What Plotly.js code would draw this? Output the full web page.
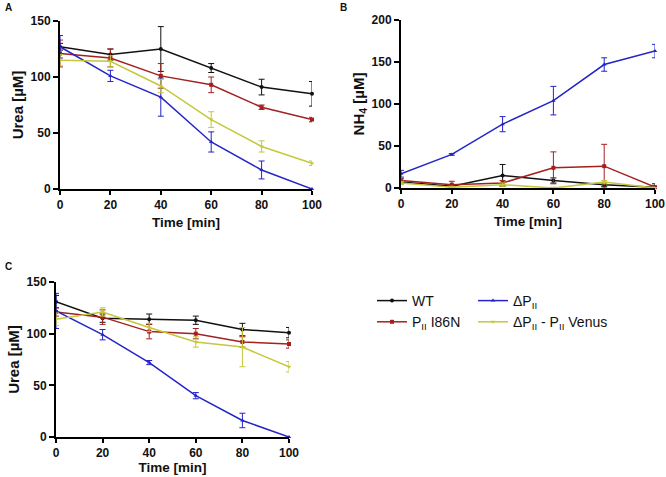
<!DOCTYPE html>
<html>
<head>
<meta charset="utf-8">
<script src="https://cdn.plot.ly/plotly-3.0.1.min.js"></script>
<style>
  html, body { margin: 0; padding: 0; background: white; }
  #chart { width: 666px; height: 477px; }
</style>
</head>
<body>
<div id="chart"></div>
<script>
// time points (min)
let timeMin = [0, 20, 40, 60, 80, 100];

// Panel A: urea [uM]
let ureaA_WT = [127, 120, 125, 108, 91, 85];
let ureaA_WT_err = [3, 5, 20, 4, 7, 11];
let ureaA_I86N = [121, 117, 101, 93, 73, 62];
let ureaA_I86N_err = [12, 8, 11, 7, 2, 2];
let ureaA_dPII = [127, 101, 82, 42, 17, 0];
let ureaA_dPII_err = [10, 5, 17, 9, 8, 0];
let ureaA_venus = [115, 114, 92, 62, 38, 23];
let ureaA_venus_err = [5, 5, 6, 7, 5, 2];

// Panel B: NH4 [uM]
let nh4_WT = [7, 2, 15, 9, 4, 1];
let nh4_WT_err = [2, 2, 13, 3, 2, 4];
let nh4_I86N = [9, 4, 6, 24, 26, 1];
let nh4_I86N_err = [2, 4, 3, 19, 26, 2];
let nh4_dPII = [17, 40, 76, 104, 147, 163];
let nh4_dPII_err = [4, 1, 9, 17, 8, 8];
let nh4_venus = [6, 1, 4, 0, 7, 0];
let nh4_venus_err = [2, 1, 2, 1, 2, 1];

// Panel C: urea [uM]
let ureaC_WT = [131, 115, 114, 113, 104, 101];
let ureaC_WT_err = [6, 4, 5, 4, 6, 5];
let ureaC_I86N = [121, 116, 102, 100, 92, 90];
let ureaC_I86N_err = [4, 7, 7, 5, 5, 4];
let ureaC_dPII = [122, 99, 72, 40, 16, 0];
let ureaC_dPII_err = [17, 5, 2, 3, 7, 0];
let ureaC_venus = [114, 121, 106, 92, 87, 68];
let ureaC_venus_err = [6, 4, 4, 5, 19, 5];

let seriesNames = ['WT', 'P<sub>II</sub> I86N', '\u0394P<sub>II</sub>', '\u0394P<sub>II</sub> - P<sub>II</sub> Venus'];
let seriesColors = ['#111111', '#a32020', '#2424c8', '#c4c83a'];
let seriesSymbols = ['circle', 'square', 'triangle-up', 'triangle-down'];
let legendFor = ['legend', 'legend', 'legend2', 'legend2'];

let W = 666, H = 477;
let FONT = 'Liberation Sans, Arial, sans-serif';

function makeTrace(idx, y, err, xa, ya, showLegend) {
    return {
        x: timeMin,
        y: y,
        error_y: { type: 'data', array: err, visible: true, color: seriesColors[idx], thickness: 1, width: 3 },
        type: 'scatter',
        mode: 'lines+markers',
        name: seriesNames[idx],
        line: { color: seriesColors[idx], width: 1.5 },
        marker: { color: seriesColors[idx], size: 4, symbol: seriesSymbols[idx] },
        xaxis: xa,
        yaxis: ya,
        cliponaxis: false,
        showlegend: showLegend,
        legend: legendFor[idx]
    };
}

let traces = [];
let panelA = [[ureaA_WT, ureaA_WT_err], [ureaA_I86N, ureaA_I86N_err], [ureaA_dPII, ureaA_dPII_err], [ureaA_venus, ureaA_venus_err]];
let panelB = [[nh4_WT, nh4_WT_err], [nh4_I86N, nh4_I86N_err], [nh4_dPII, nh4_dPII_err], [nh4_venus, nh4_venus_err]];
let panelC = [[ureaC_WT, ureaC_WT_err], [ureaC_I86N, ureaC_I86N_err], [ureaC_dPII, ureaC_dPII_err], [ureaC_venus, ureaC_venus_err]];

panelA.forEach((s, i) => traces.push(makeTrace(i, s[0], s[1], 'x', 'y', true)));
panelB.forEach((s, i) => traces.push(makeTrace(i, s[0], s[1], 'x2', 'y2', false)));
panelC.forEach((s, i) => traces.push(makeTrace(i, s[0], s[1], 'x3', 'y3', false)));

function px(x) { return x / W; }
function py(y) { return 1 - y / H; }

function xAxis(left, right, anchor, standoff) {
    return {
        domain: [px(left), px(right)],
        anchor: anchor,
        range: [0, 100],
        tickvals: timeMin,
        showline: true, linecolor: '#000', linewidth: 2,
        ticks: 'outside', ticklen: 4, tickwidth: 2, tickcolor: '#000',
        showgrid: false, zeroline: false, fixedrange: true,
        tickfont: { family: FONT, size: 12, color: '#111', weight: 'bold' },
        title: { text: 'Time [min]', font: { family: FONT, size: 13.5, color: '#111', weight: 'bold' }, standoff: standoff }
    };
}

function yAxis(top, bottom, anchor, max, step, title) {
    return {
        domain: [py(bottom), py(top)],
        anchor: anchor,
        range: [0, max],
        dtick: step, tick0: 0,
        showline: true, linecolor: '#000', linewidth: 2,
        ticks: 'outside', ticklen: 5, tickwidth: 2, tickcolor: '#000',
        showgrid: false, zeroline: false, fixedrange: true,
        tickfont: { family: FONT, size: 12, color: '#111', weight: 'bold' },
        title: { text: title, font: { family: FONT, size: 15, color: '#111', weight: 'bold' }, standoff: 3 }
    };
}

let legendFont = { family: FONT, size: 14, color: '#111' };

let layout = {
    width: W,
    height: H,
    margin: { l: 0, r: 0, t: 0, b: 0 },
    paper_bgcolor: 'white',
    plot_bgcolor: 'white',
    font: { family: FONT, color: '#111' },
    xaxis: xAxis(60, 312, 'y', 6),
    yaxis: yAxis(21, 189, 'x', 150, 50, 'Urea [\u00b5M]'),
    xaxis2: xAxis(401, 655, 'y2', 6),
    yaxis2: yAxis(20, 188, 'x2', 200, 50, 'NH<sub>4</sub> [\u00b5M]'),
    xaxis3: xAxis(56, 289, 'y3', 2),
    yaxis3: yAxis(282, 437, 'x3', 150, 50, 'Urea [\u00b5M]'),
    legend: {
        x: px(372), y: py(285), xanchor: 'left', yanchor: 'top',
        bgcolor: 'rgba(0,0,0,0)', tracegroupgap: 0, itemwidth: 30,
        font: legendFont
    },
    legend2: {
        x: px(473), y: py(285), xanchor: 'left', yanchor: 'top',
        bgcolor: 'rgba(0,0,0,0)', tracegroupgap: 0, itemwidth: 30,
        font: legendFont
    },
    annotations: [
        { text: '<b>A</b>', x: px(3), y: py(8), xref: 'paper', yref: 'paper', xanchor: 'left', yanchor: 'middle', showarrow: false, font: { family: FONT, size: 10, color: '#111' } },
        { text: '<b>B</b>', x: px(338), y: py(8), xref: 'paper', yref: 'paper', xanchor: 'left', yanchor: 'middle', showarrow: false, font: { family: FONT, size: 10, color: '#111' } },
        { text: '<b>C</b>', x: px(3), y: py(266), xref: 'paper', yref: 'paper', xanchor: 'left', yanchor: 'middle', showarrow: false, font: { family: FONT, size: 10, color: '#111' } }
    ]
};

Plotly.newPlot('chart', traces, layout, { displayModeBar: false, staticPlot: true });
</script>
</body>
</html>
